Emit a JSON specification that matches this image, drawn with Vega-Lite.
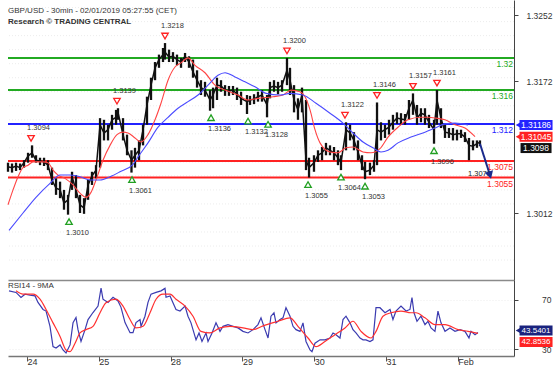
{
"$schema":"https://vega.github.io/schema/vega-lite/v6.json",
"padding":{"left":5,"right":0,"top":0,"bottom":0},
"spacing":0,
"background":"white",
"config":{"font":"Liberation Sans","view":{"stroke":null}},
"datasets":{
"bars":[
{"t":-0.265,"p":1.3062,"h":1.3073,"c":1.3068},{"t":-0.209,"p":1.3061,"h":1.3072,"c":1.3067},{"t":-0.153,"p":1.3063,"h":1.3073,"c":1.3069},{"t":-0.097,"p":1.3064,"h":1.3072,"c":1.3067},{"t":-0.042,"p":1.3067,"h":1.3076,"c":1.3073},{"t":0.014,"p":1.3073,"h":1.3085,"c":1.3081},{"t":0.070,"p":1.3079,"h":1.3094,"c":1.3085},{"t":0.125,"p":1.3073,"h":1.3082,"c":1.3076},{"t":0.181,"p":1.3070,"h":1.3079,"c":1.3075},{"t":0.237,"p":1.3069,"h":1.3079,"c":1.3074},{"t":0.292,"p":1.3064,"h":1.3076,"c":1.3070},{"t":0.348,"p":1.3046,"h":1.3067,"c":1.3052},{"t":0.404,"p":1.3034,"h":1.3054,"c":1.3042},{"t":0.460,"p":1.3030,"h":1.3050,"c":1.3040},{"t":0.515,"p":1.3016,"h":1.3040,"c":1.3024},{"t":0.571,"p":1.3010,"h":1.3034,"c":1.3028},{"t":0.627,"p":1.3040,"h":1.3062,"c":1.3056},{"t":0.682,"p":1.3030,"h":1.3058,"c":1.3040},{"t":0.738,"p":1.3012,"h":1.3034,"c":1.3022},{"t":0.794,"p":1.3011,"h":1.3030,"c":1.3018},{"t":0.850,"p":1.3028,"h":1.3052,"c":1.3046},{"t":0.905,"p":1.3046,"h":1.3062,"c":1.3057},{"t":0.961,"p":1.3054,"h":1.3070,"c":1.3064},{"t":1.017,"p":1.3067,"h":1.3127,"c":1.3119},{"t":1.072,"p":1.3100,"h":1.3125,"c":1.3109},{"t":1.128,"p":1.3100,"h":1.3119,"c":1.3113},{"t":1.184,"p":1.3113,"h":1.3131,"c":1.3125},{"t":1.240,"p":1.3119,"h":1.3137,"c":1.3128},{"t":1.267,"p":1.3125,"h":1.3139,"c":1.3134},{"t":1.337,"p":1.3100,"h":1.3127,"c":1.3107},{"t":1.393,"p":1.3082,"h":1.3107,"c":1.3088},{"t":1.455,"p":1.3061,"h":1.3088,"c":1.3076},{"t":1.504,"p":1.3067,"h":1.3091,"c":1.3082},{"t":1.560,"p":1.3076,"h":1.3100,"c":1.3088},{"t":1.616,"p":1.3094,"h":1.3119,"c":1.3113},{"t":1.671,"p":1.3119,"h":1.3153,"c":1.3143},{"t":1.727,"p":1.3149,"h":1.3176,"c":1.3167},{"t":1.783,"p":1.3173,"h":1.3195,"c":1.3188},{"t":1.838,"p":1.3188,"h":1.3204,"c":1.3198},{"t":1.894,"p":1.3195,"h":1.3212,"c":1.3204},{"t":1.922,"p":1.3198,"h":1.3218,"c":1.3207},{"t":1.978,"p":1.3195,"h":1.3210,"c":1.3201},{"t":2.033,"p":1.3195,"h":1.3207,"c":1.3202},{"t":2.089,"p":1.3191,"h":1.3204,"c":1.3198},{"t":2.145,"p":1.3188,"h":1.3200,"c":1.3195},{"t":2.201,"p":1.3195,"h":1.3206,"c":1.3202},{"t":2.256,"p":1.3188,"h":1.3202,"c":1.3195},{"t":2.312,"p":1.3176,"h":1.3198,"c":1.3183},{"t":2.368,"p":1.3164,"h":1.3185,"c":1.3173},{"t":2.423,"p":1.3155,"h":1.3173,"c":1.3164},{"t":2.479,"p":1.3153,"h":1.3171,"c":1.3161},{"t":2.549,"p":1.3136,"h":1.3161,"c":1.3149},{"t":2.591,"p":1.3139,"h":1.3164,"c":1.3155},{"t":2.646,"p":1.3149,"h":1.3176,"c":1.3167},{"t":2.702,"p":1.3159,"h":1.3173,"c":1.3166},{"t":2.758,"p":1.3154,"h":1.3167,"c":1.3161},{"t":2.813,"p":1.3154,"h":1.3166,"c":1.3160},{"t":2.869,"p":1.3155,"h":1.3166,"c":1.3161},{"t":2.925,"p":1.3149,"h":1.3164,"c":1.3156},{"t":2.981,"p":1.3143,"h":1.3159,"c":1.3151},{"t":3.064,"p":1.3132,"h":1.3155,"c":1.3147},{"t":3.106,"p":1.3143,"h":1.3154,"c":1.3149},{"t":3.162,"p":1.3144,"h":1.3156,"c":1.3150},{"t":3.217,"p":1.3147,"h":1.3159,"c":1.3153},{"t":3.273,"p":1.3147,"h":1.3161,"c":1.3155},{"t":3.343,"p":1.3128,"h":1.3155,"c":1.3143},{"t":3.384,"p":1.3151,"h":1.3171,"c":1.3164},{"t":3.440,"p":1.3159,"h":1.3173,"c":1.3166},{"t":3.496,"p":1.3156,"h":1.3171,"c":1.3164},{"t":3.552,"p":1.3159,"h":1.3173,"c":1.3167},{"t":3.621,"p":1.3167,"h":1.3200,"c":1.3185},{"t":3.663,"p":1.3155,"h":1.3188,"c":1.3173},{"t":3.719,"p":1.3134,"h":1.3167,"c":1.3149},{"t":3.774,"p":1.3125,"h":1.3151,"c":1.3137},{"t":3.830,"p":1.3134,"h":1.3164,"c":1.3155},{"t":3.886,"p":1.3064,"h":1.3149,"c":1.3076},{"t":3.928,"p":1.3055,"h":1.3079,"c":1.3067},{"t":3.997,"p":1.3062,"h":1.3082,"c":1.3073},{"t":4.053,"p":1.3074,"h":1.3088,"c":1.3082},{"t":4.109,"p":1.3076,"h":1.3092,"c":1.3085},{"t":4.164,"p":1.3082,"h":1.3097,"c":1.3091},{"t":4.220,"p":1.3082,"h":1.3094,"c":1.3088},{"t":4.276,"p":1.3076,"h":1.3092,"c":1.3085},{"t":4.331,"p":1.3070,"h":1.3088,"c":1.3079},{"t":4.373,"p":1.3064,"h":1.3082,"c":1.3073},{"t":4.443,"p":1.3088,"h":1.3122,"c":1.3113},{"t":4.499,"p":1.3100,"h":1.3119,"c":1.3109},{"t":4.554,"p":1.3088,"h":1.3110,"c":1.3100},{"t":4.610,"p":1.3076,"h":1.3100,"c":1.3086},{"t":4.666,"p":1.3064,"h":1.3082,"c":1.3070},{"t":4.708,"p":1.3053,"h":1.3074,"c":1.3062},{"t":4.777,"p":1.3058,"h":1.3073,"c":1.3064},{"t":4.833,"p":1.3062,"h":1.3076,"c":1.3070},{"t":4.875,"p":1.3070,"h":1.3146,"c":1.3113},{"t":4.930,"p":1.3100,"h":1.3122,"c":1.3110},{"t":4.986,"p":1.3103,"h":1.3119,"c":1.3113},{"t":5.042,"p":1.3107,"h":1.3125,"c":1.3116},{"t":5.097,"p":1.3113,"h":1.3131,"c":1.3122},{"t":5.153,"p":1.3120,"h":1.3134,"c":1.3127},{"t":5.209,"p":1.3119,"h":1.3133,"c":1.3126},{"t":5.265,"p":1.3119,"h":1.3132,"c":1.3125},{"t":5.320,"p":1.3125,"h":1.3149,"c":1.3139},{"t":5.376,"p":1.3131,"h":1.3157,"c":1.3149},{"t":5.432,"p":1.3119,"h":1.3143,"c":1.3127},{"t":5.487,"p":1.3122,"h":1.3139,"c":1.3133},{"t":5.543,"p":1.3119,"h":1.3139,"c":1.3131},{"t":5.599,"p":1.3115,"h":1.3131,"c":1.3122},{"t":5.669,"p":1.3096,"h":1.3125,"c":1.3113},{"t":5.710,"p":1.3119,"h":1.3161,"c":1.3149},{"t":5.766,"p":1.3115,"h":1.3139,"c":1.3127},{"t":5.822,"p":1.3103,"h":1.3119,"c":1.3110},{"t":5.877,"p":1.3103,"h":1.3115,"c":1.3109},{"t":5.933,"p":1.3100,"h":1.3115,"c":1.3107},{"t":5.989,"p":1.3100,"h":1.3113,"c":1.3108},{"t":6.045,"p":1.3103,"h":1.3113,"c":1.3108},{"t":6.100,"p":1.3098,"h":1.3110,"c":1.3104},{"t":6.156,"p":1.3076,"h":1.3103,"c":1.3094},{"t":6.212,"p":1.3088,"h":1.3100,"c":1.3093},{"t":6.267,"p":1.3091,"h":1.3100,"c":1.3096},{"t":6.309,"p":1.3093,"h":1.3100,"c":1.3098}
],
"redma":[
{"t":-0.265,"p":1.3022},{"t":-0.195,"p":1.3040},{"t":-0.125,"p":1.3056},{"t":-0.056,"p":1.3067},{"t":0.014,"p":1.3070},{"t":0.084,"p":1.3074},{"t":0.223,"p":1.3074},{"t":0.292,"p":1.3073},{"t":0.362,"p":1.3064},{"t":0.432,"p":1.3058},{"t":0.529,"p":1.3054},{"t":0.641,"p":1.3046},{"t":0.738,"p":1.3036},{"t":0.822,"p":1.3031},{"t":0.891,"p":1.3037},{"t":0.961,"p":1.3052},{"t":1.058,"p":1.3076},{"t":1.156,"p":1.3094},{"t":1.253,"p":1.3107},{"t":1.337,"p":1.3110},{"t":1.407,"p":1.3109},{"t":1.504,"p":1.3103},{"t":1.588,"p":1.3098},{"t":1.685,"p":1.3107},{"t":1.783,"p":1.3125},{"t":1.866,"p":1.3145},{"t":1.964,"p":1.3173},{"t":2.061,"p":1.3189},{"t":2.145,"p":1.3194},{"t":2.242,"p":1.3200},{"t":2.340,"p":1.3191},{"t":2.479,"p":1.3182},{"t":2.618,"p":1.3167},{"t":2.758,"p":1.3161},{"t":2.939,"p":1.3155},{"t":3.078,"p":1.3149},{"t":3.217,"p":1.3151},{"t":3.426,"p":1.3153},{"t":3.565,"p":1.3155},{"t":3.677,"p":1.3161},{"t":3.802,"p":1.3159},{"t":3.872,"p":1.3153},{"t":3.942,"p":1.3137},{"t":4.011,"p":1.3113},{"t":4.081,"p":1.3097},{"t":4.220,"p":1.3086},{"t":4.331,"p":1.3085},{"t":4.443,"p":1.3091},{"t":4.540,"p":1.3092},{"t":4.680,"p":1.3086},{"t":4.791,"p":1.3085},{"t":4.916,"p":1.3090},{"t":5.028,"p":1.3104},{"t":5.167,"p":1.3116},{"t":5.306,"p":1.3125},{"t":5.487,"p":1.3128},{"t":5.585,"p":1.3128},{"t":5.696,"p":1.3127},{"t":5.822,"p":1.3125},{"t":5.961,"p":1.3119},{"t":6.100,"p":1.3115},{"t":6.240,"p":1.31045}
],
"bluema":[
{"t":-0.251,"p":1.2991},{"t":-0.056,"p":1.3012},{"t":0.125,"p":1.3031},{"t":0.320,"p":1.3048},{"t":0.460,"p":1.3058},{"t":0.599,"p":1.3058},{"t":0.738,"p":1.3056},{"t":0.877,"p":1.3052},{"t":1.017,"p":1.3052},{"t":1.156,"p":1.3056},{"t":1.295,"p":1.3062},{"t":1.476,"p":1.3071},{"t":1.546,"p":1.3080},{"t":1.685,"p":1.3097},{"t":1.825,"p":1.3116},{"t":1.964,"p":1.3128},{"t":2.103,"p":1.3139},{"t":2.242,"p":1.3147},{"t":2.382,"p":1.3155},{"t":2.521,"p":1.3167},{"t":2.660,"p":1.3179},{"t":2.758,"p":1.3182},{"t":2.897,"p":1.3177},{"t":3.036,"p":1.3171},{"t":3.175,"p":1.3165},{"t":3.329,"p":1.3157},{"t":3.524,"p":1.3155},{"t":3.663,"p":1.3157},{"t":3.844,"p":1.3155},{"t":4.025,"p":1.3145},{"t":4.220,"p":1.3133},{"t":4.401,"p":1.3121},{"t":4.540,"p":1.3109},{"t":4.680,"p":1.3098},{"t":4.819,"p":1.3091},{"t":4.930,"p":1.3086},{"t":5.028,"p":1.3088},{"t":5.167,"p":1.3097},{"t":5.348,"p":1.3104},{"t":5.543,"p":1.3110},{"t":5.682,"p":1.3115},{"t":5.822,"p":1.3120},{"t":5.961,"p":1.3121},{"t":6.142,"p":1.31186}
],
"levels":[
{"p":1.3200,"k":"g","label":"1.32"},{"p":1.3161,"k":"g","label":"1.316"},{"p":1.3120,"k":"b","label":"1.312"},{"p":1.3075,"k":"r","label":"1.3075"},{"p":1.3055,"k":"r","label":"1.3055"}
],
"grid":[
{"p":1.2955},{"p":1.2972},{"p":1.2989},{"p":1.3006},{"p":1.3023},{"p":1.3040},{"p":1.3057},{"p":1.3074},{"p":1.3091},{"p":1.3108},{"p":1.3125},{"p":1.3142},{"p":1.3159},{"p":1.3176},{"p":1.3193},{"p":1.3210},{"p":1.3227},{"p":1.3244},{"p":1.3261}
],
"highs":[
{"t":0.056,"p":1.3094,"label":"1.3094"},{"t":1.253,"p":1.3139,"label":"1.3139"},{"t":1.922,"p":1.3218,"label":"1.3218"},{"t":3.621,"p":1.3200,"label":"1.3200"},{"t":4.429,"p":1.3122,"label":"1.3122"},{"t":4.875,"p":1.3146,"label":"1.3146"},{"t":5.376,"p":1.3157,"label":"1.3157"},{"t":5.710,"p":1.3161,"label":"1.3161"}
],
"lows":[
{"t":0.585,"p":1.3010,"label":"1.3010"},{"t":1.462,"p":1.3061,"label":"1.3061"},{"t":2.563,"p":1.3136,"label":"1.3136"},{"t":3.078,"p":1.3132,"label":"1.3132"},{"t":3.357,"p":1.3128,"label":"1.3128"},{"t":3.914,"p":1.3055,"label":"1.3055"},{"t":4.373,"p":1.3064,"label":"1.3064"},{"t":4.708,"p":1.3053,"label":"1.3053"},{"t":5.669,"p":1.3096,"label":"1.3096"}
],
"arrow":[{"t":6.309,"p":1.3096},{"t":6.448,"p":1.3058}],
"arrowhead":[{"t":6.448,"p":1.3058,"label":"1.3070"}],
"tags":[{"p":1.31186,"k":"b","label":"1.31186"},{"p":1.31045,"k":"r","label":"1.31045"}],
"lasttag":[{"p":1.3098,"label":"1.3098"}],
"rsi":[
{"t":-0.251,"v":77.4},{"t":-0.153,"v":76.1},{"t":-0.084,"v":72},{"t":-0.028,"v":74.7},{"t":0.042,"v":73.9},{"t":0.111,"v":73.3},{"t":0.153,"v":68},{"t":0.223,"v":62.3},{"t":0.265,"v":61},{"t":0.320,"v":48.6},{"t":0.362,"v":32.1},{"t":0.404,"v":31},{"t":0.460,"v":33.5},{"t":0.501,"v":29.4},{"t":0.543,"v":27},{"t":0.599,"v":33.5},{"t":0.641,"v":51.6},{"t":0.682,"v":55.7},{"t":0.710,"v":45.9},{"t":0.752,"v":36.3},{"t":0.808,"v":45.9},{"t":0.850,"v":54.1},{"t":0.919,"v":59.8},{"t":0.989,"v":65},{"t":1.031,"v":79.6},{"t":1.058,"v":70.6},{"t":1.128,"v":68},{"t":1.198,"v":72.2},{"t":1.267,"v":69.2},{"t":1.309,"v":64},{"t":1.365,"v":51.6},{"t":1.435,"v":43.4},{"t":1.476,"v":43.4},{"t":1.518,"v":51.6},{"t":1.574,"v":54.1},{"t":1.588,"v":48.6},{"t":1.643,"v":56.8},{"t":1.685,"v":68},{"t":1.727,"v":74.7},{"t":1.797,"v":76.1},{"t":1.866,"v":77.4},{"t":1.922,"v":79.4},{"t":1.936,"v":72.2},{"t":1.992,"v":73.3},{"t":2.033,"v":67.8},{"t":2.075,"v":62.3},{"t":2.131,"v":61},{"t":2.201,"v":65},{"t":2.242,"v":56.8},{"t":2.284,"v":51.4},{"t":2.354,"v":37.6},{"t":2.396,"v":43.2},{"t":2.437,"v":36.3},{"t":2.493,"v":43.2},{"t":2.521,"v":36.3},{"t":2.577,"v":43.2},{"t":2.632,"v":51.4},{"t":2.688,"v":44.5},{"t":2.730,"v":48.6},{"t":2.799,"v":50},{"t":2.869,"v":48.6},{"t":2.939,"v":47.3},{"t":3.008,"v":44.5},{"t":3.078,"v":43.2},{"t":3.148,"v":45.9},{"t":3.217,"v":50},{"t":3.259,"v":55.5},{"t":3.315,"v":45.9},{"t":3.357,"v":39.1},{"t":3.398,"v":56.8},{"t":3.440,"v":59.6},{"t":3.468,"v":51.4},{"t":3.524,"v":54.1},{"t":3.565,"v":55.5},{"t":3.607,"v":63.7},{"t":3.663,"v":56.8},{"t":3.705,"v":48.6},{"t":3.747,"v":45.9},{"t":3.802,"v":44.5},{"t":3.844,"v":51.4},{"t":3.886,"v":36.3},{"t":3.942,"v":29.4},{"t":3.969,"v":28},{"t":4.011,"v":34.9},{"t":4.081,"v":37.6},{"t":4.150,"v":37.6},{"t":4.220,"v":39.1},{"t":4.262,"v":43.2},{"t":4.304,"v":41.8},{"t":4.359,"v":39.1},{"t":4.401,"v":54.1},{"t":4.443,"v":56.8},{"t":4.499,"v":51.4},{"t":4.540,"v":45.9},{"t":4.582,"v":43.2},{"t":4.638,"v":39.1},{"t":4.680,"v":37.6},{"t":4.721,"v":37.6},{"t":4.777,"v":36.3},{"t":4.819,"v":37.6},{"t":4.861,"v":63.7},{"t":4.916,"v":63.7},{"t":4.986,"v":59.6},{"t":5.056,"v":62.3},{"t":5.097,"v":54.1},{"t":5.139,"v":61},{"t":5.209,"v":65},{"t":5.279,"v":61},{"t":5.334,"v":62.3},{"t":5.362,"v":72},{"t":5.390,"v":59.6},{"t":5.432,"v":52.7},{"t":5.487,"v":56.8},{"t":5.543,"v":50},{"t":5.585,"v":52.7},{"t":5.627,"v":47.3},{"t":5.682,"v":44.5},{"t":5.724,"v":61},{"t":5.766,"v":51.4},{"t":5.822,"v":44.5},{"t":5.891,"v":47.3},{"t":5.961,"v":44.5},{"t":6.031,"v":45.9},{"t":6.100,"v":44.5},{"t":6.156,"v":39.1},{"t":6.184,"v":44.5},{"t":6.240,"v":41.8},{"t":6.281,"v":43.54}
],
"rsima":[
{"t":-0.153,"v":77.4},{"t":-0.056,"v":74.7},{"t":0.084,"v":74.7},{"t":0.181,"v":70.6},{"t":0.265,"v":62.3},{"t":0.362,"v":51.4},{"t":0.460,"v":40.4},{"t":0.543,"v":29.4},{"t":0.599,"v":28},{"t":0.669,"v":34.9},{"t":0.738,"v":43.2},{"t":0.822,"v":45.9},{"t":0.919,"v":48.6},{"t":1.017,"v":59.6},{"t":1.100,"v":67.8},{"t":1.240,"v":70.6},{"t":1.337,"v":65},{"t":1.435,"v":54.1},{"t":1.518,"v":47.3},{"t":1.616,"v":48.6},{"t":1.713,"v":59.6},{"t":1.797,"v":70.6},{"t":1.894,"v":74.7},{"t":1.992,"v":74.7},{"t":2.075,"v":70.6},{"t":2.201,"v":65},{"t":2.312,"v":56.8},{"t":2.423,"v":44.5},{"t":2.549,"v":43.2},{"t":2.688,"v":47.3},{"t":2.827,"v":48.6},{"t":3.008,"v":47.3},{"t":3.148,"v":45.9},{"t":3.287,"v":49},{"t":3.496,"v":52.7},{"t":3.663,"v":55.5},{"t":3.774,"v":48.6},{"t":3.914,"v":39.1},{"t":4.025,"v":32.1},{"t":4.150,"v":36.3},{"t":4.290,"v":41.8},{"t":4.429,"v":47.3},{"t":4.540,"v":52.7},{"t":4.652,"v":44.5},{"t":4.791,"v":39.1},{"t":4.861,"v":44.5},{"t":4.958,"v":56.8},{"t":5.070,"v":59.6},{"t":5.209,"v":61},{"t":5.348,"v":59.6},{"t":5.418,"v":59.6},{"t":5.543,"v":55.5},{"t":5.682,"v":50},{"t":5.822,"v":50},{"t":6.003,"v":45.9},{"t":6.142,"v":44.5},{"t":6.281,"v":42.85}
],
"rsitag":[{"v":43.5401,"label":"43.5401"}],
"rsimatag":[{"v":42.8536,"label":"42.8536"}]
},
"vconcat":[
{
"width":506,"height":280,
"title":{"text":"GBP/USD - 30min - 02/01/2019 05:27:55 (CET)","subtitle":"Research © TRADING CENTRAL","anchor":"start","frame":"group","offset":-26,"fontSize":8,"fontWeight":"normal","color":"#333333","subtitleFontSize":8,"subtitleFontWeight":"bold","subtitleColor":"#333333","subtitlePadding":3,"font":"Liberation Sans","subtitleFont":"Liberation Sans"},
"layer":[
{"data":{"name":"grid"},"mark":{"type":"rule","color":"#ececec","strokeWidth":1,"strokeDash":[1,2]},
 "encoding":{"y":{"field":"p","type":"quantitative","scale":{"domain":[1.29308,1.32702],"nice":false,"zero":false},"axis":{"orient":"right","values":[1.3012,1.3172,1.3252],"format":".4f","title":null,"grid":false,"tickSize":4,"tickColor":"#444444","domainColor":"#444444","labelColor":"#333333","labelFontSize":8.5,"labelPadding":8,"labelFont":"Liberation Sans"}}}},
{"data":{"name":"levels"},"mark":{"type":"rule","strokeWidth":2},
 "encoding":{"y":{"field":"p","type":"quantitative","scale":{"domain":[1.29308,1.32702],"nice":false,"zero":false}},
 "color":{"field":"k","type":"nominal","scale":{"domain":["g","b","r","k"],"range":["#22aa22","#2222ff","#ff2222","#111111"]},"legend":null}}},
{"data":{"name":"bars"},"mark":{"type":"rule","color":"#111111","strokeWidth":2.3},
 "encoding":{"x":{"field":"t","type":"quantitative","scale":{"domain":[-0.265,6.783],"nice":false,"zero":false},"axis":{"orient":"bottom","labels":false,"ticks":false,"grid":false,"title":null,"domainColor":"#8a8a8a","domainWidth":1.5}},
 "y":{"field":"p","type":"quantitative","scale":{"domain":[1.29308,1.32702],"nice":false,"zero":false}},
 "y2":{"field":"h"}}},
{"data":{"name":"bars"},"mark":{"type":"line","color":"#111111","strokeWidth":1.5},
 "encoding":{"x":{"field":"t","type":"quantitative","scale":{"domain":[-0.265,6.783],"nice":false,"zero":false}},
 "y":{"field":"c","type":"quantitative","scale":{"domain":[1.29308,1.32702],"nice":false,"zero":false}}}},
{"data":{"name":"redma"},"mark":{"type":"line","color":"#ff4444","strokeWidth":1.1,"interpolate":"monotone"},
 "encoding":{"x":{"field":"t","type":"quantitative","scale":{"domain":[-0.265,6.783],"nice":false,"zero":false}},
 "y":{"field":"p","type":"quantitative","scale":{"domain":[1.29308,1.32702],"nice":false,"zero":false}}}},
{"data":{"name":"bluema"},"mark":{"type":"line","color":"#4b4bff","strokeWidth":1.1,"interpolate":"monotone"},
 "encoding":{"x":{"field":"t","type":"quantitative","scale":{"domain":[-0.265,6.783],"nice":false,"zero":false}},
 "y":{"field":"p","type":"quantitative","scale":{"domain":[1.29308,1.32702],"nice":false,"zero":false}}}},
{"data":{"name":"highs"},"mark":{"type":"point","shape":"triangle-down","filled":true,"fill":"white","stroke":"#ff2222","strokeWidth":1.3,"size":42,"yOffset":-7,"opacity":1},
 "encoding":{"x":{"field":"t","type":"quantitative","scale":{"domain":[-0.265,6.783],"nice":false,"zero":false}},
 "y":{"field":"p","type":"quantitative","scale":{"domain":[1.29308,1.32702],"nice":false,"zero":false}}}},
{"data":{"name":"highs"},"mark":{"type":"text","align":"left","baseline":"middle","dx":-4,"yOffset":-17,"fontSize":7.5,"color":"#333333","font":"Liberation Sans"},
 "encoding":{"x":{"field":"t","type":"quantitative","scale":{"domain":[-0.265,6.783],"nice":false,"zero":false}},
 "y":{"field":"p","type":"quantitative","scale":{"domain":[1.29308,1.32702],"nice":false,"zero":false}},"text":{"field":"label"}}},
{"data":{"name":"lows"},"mark":{"type":"point","shape":"triangle-up","filled":true,"fill":"white","stroke":"#22a022","strokeWidth":1.3,"size":42,"yOffset":7,"opacity":1},
 "encoding":{"x":{"field":"t","type":"quantitative","scale":{"domain":[-0.265,6.783],"nice":false,"zero":false}},
 "y":{"field":"p","type":"quantitative","scale":{"domain":[1.29308,1.32702],"nice":false,"zero":false}}}},
{"data":{"name":"lows"},"mark":{"type":"text","align":"left","baseline":"middle","dx":-3,"yOffset":18,"fontSize":7.5,"color":"#333333","font":"Liberation Sans"},
 "encoding":{"x":{"field":"t","type":"quantitative","scale":{"domain":[-0.265,6.783],"nice":false,"zero":false}},
 "y":{"field":"p","type":"quantitative","scale":{"domain":[1.29308,1.32702],"nice":false,"zero":false}},"text":{"field":"label"}}},
{"data":{"name":"levels"},"mark":{"type":"text","align":"right","baseline":"top","dy":2,"fontSize":8.5,"font":"Liberation Sans"},
 "encoding":{"x":{"datum":6.77,"type":"quantitative","scale":{"domain":[-0.265,6.783],"nice":false,"zero":false}},
 "y":{"field":"p","type":"quantitative","scale":{"domain":[1.29308,1.32702],"nice":false,"zero":false}},
 "text":{"field":"label"},
 "color":{"field":"k","type":"nominal","scale":{"domain":["g","b","r","k"],"range":["#22aa22","#2222ff","#ff2222","#111111"]},"legend":null}}},
{"data":{"name":"arrow"},"mark":{"type":"line","color":"#1a2a8c","strokeWidth":2},
 "encoding":{"x":{"field":"t","type":"quantitative","scale":{"domain":[-0.265,6.783],"nice":false,"zero":false}},
 "y":{"field":"p","type":"quantitative","scale":{"domain":[1.29308,1.32702],"nice":false,"zero":false}}}},
{"data":{"name":"arrowhead"},"mark":{"type":"text","align":"right","baseline":"middle","dx":1,"dy":-1,"fontSize":7.5,"color":"#222222","font":"Liberation Sans"},
 "encoding":{"x":{"field":"t","type":"quantitative","scale":{"domain":[-0.265,6.783],"nice":false,"zero":false}},
 "y":{"field":"p","type":"quantitative","scale":{"domain":[1.29308,1.32702],"nice":false,"zero":false}},"text":{"field":"label"}}},
{"data":{"name":"arrowhead"},"mark":{"type":"point","shape":"triangle-up","angle":163,"filled":true,"color":"#1a2a8c","size":75,"opacity":1},
 "encoding":{"x":{"field":"t","type":"quantitative","scale":{"domain":[-0.265,6.783],"nice":false,"zero":false}},
 "y":{"field":"p","type":"quantitative","scale":{"domain":[1.29308,1.32702],"nice":false,"zero":false}}}},
{"data":{"name":"tags"},"mark":{"type":"point","shape":"triangle-left","filled":true,"size":30,"opacity":1},
 "encoding":{"x":{"datum":6.84,"type":"quantitative","scale":{"domain":[-0.265,6.783],"nice":false,"zero":false}},
 "y":{"field":"p","type":"quantitative","scale":{"domain":[1.29308,1.32702],"nice":false,"zero":false}},
 "color":{"field":"k","type":"nominal","scale":{"domain":["g","b","r","k"],"range":["#22aa22","#2222ff","#ff2222","#111111"]},"legend":null}}},
{"data":{"name":"tags"},"mark":{"type":"tick","orient":"horizontal","size":33,"thickness":10,"opacity":1},
 "encoding":{"x":{"datum":7.09,"type":"quantitative","scale":{"domain":[-0.265,6.783],"nice":false,"zero":false}},
 "y":{"field":"p","type":"quantitative","scale":{"domain":[1.29308,1.32702],"nice":false,"zero":false}},
 "color":{"field":"k","type":"nominal","scale":{"domain":["g","b","r","k"],"range":["#22aa22","#2222ff","#ff2222","#111111"]},"legend":null}}},
{"data":{"name":"tags"},"mark":{"type":"text","align":"center","baseline":"middle","fontSize":8.5,"color":"white","font":"Liberation Sans"},
 "encoding":{"x":{"datum":7.09,"type":"quantitative","scale":{"domain":[-0.265,6.783],"nice":false,"zero":false}},
 "y":{"field":"p","type":"quantitative","scale":{"domain":[1.29308,1.32702],"nice":false,"zero":false}},"text":{"field":"label"}}},
{"data":{"name":"lasttag"},"mark":{"type":"tick","orient":"horizontal","size":31,"thickness":10,"color":"#111111","opacity":1,"yOffset":6},
 "encoding":{"x":{"datum":7.09,"type":"quantitative","scale":{"domain":[-0.265,6.783],"nice":false,"zero":false}},
 "y":{"field":"p","type":"quantitative","scale":{"domain":[1.29308,1.32702],"nice":false,"zero":false}}}},
{"data":{"name":"lasttag"},"mark":{"type":"text","align":"center","baseline":"middle","fontSize":8.5,"color":"white","yOffset":6,"font":"Liberation Sans"},
 "encoding":{"x":{"datum":7.09,"type":"quantitative","scale":{"domain":[-0.265,6.783],"nice":false,"zero":false}},
 "y":{"field":"p","type":"quantitative","scale":{"domain":[1.29308,1.32702],"nice":false,"zero":false}},"text":{"field":"label"}}}
]
},
{
"width":506,"height":76,
"title":{"text":"RSI14 - 9MA","anchor":"start","frame":"group","offset":-10,"fontSize":8,"fontWeight":"normal","color":"#333333","font":"Liberation Sans"},
"layer":[
{"data":{"name":"rsi"},"mark":{"type":"line","color":"#3b3bb0","strokeWidth":1.2},
 "encoding":{"x":{"field":"t","type":"quantitative","scale":{"domain":[-0.265,6.783],"nice":false,"zero":false},
   "axis":{"orient":"bottom","values":[0,1,2,3,4,5,6],"labelExpr":"['24','25','28','29','30','31','Feb'][datum.value]","title":null,"grid":false,"tickSize":5,"tickColor":"#555555","domainColor":"#777777","domainWidth":1.5,"labelAlign":"left","labelBaseline":"top","labelPadding":-4,"labelDx":3,"labelFontSize":9,"labelColor":"#333333","labelFont":"Liberation Sans"}},
 "y":{"field":"v","type":"quantitative","scale":{"domain":[24.5,86.2],"nice":false,"zero":false},
   "axis":{"orient":"right","values":[30,50,70],"title":null,"grid":true,"gridColor":"#ececec","gridDash":[1,2],"tickSize":4,"tickColor":"#444444","domainColor":"#444444","labelColor":"#333333","labelFontSize":8.5,"labelAlign":"right","labelPadding":33,"labelFont":"Liberation Sans"}}}},
{"data":{"name":"rsima"},"mark":{"type":"line","color":"#ff3030","strokeWidth":1.2,"interpolate":"monotone"},
 "encoding":{"x":{"field":"t","type":"quantitative","scale":{"domain":[-0.265,6.783],"nice":false,"zero":false}},
 "y":{"field":"v","type":"quantitative","scale":{"domain":[24.5,86.2],"nice":false,"zero":false}}}},
{"data":{"name":"rsitag"},"mark":{"type":"point","shape":"triangle-left","filled":true,"size":30,"color":"#1a237e","opacity":1,"yOffset":-2},
 "encoding":{"x":{"datum":6.84,"type":"quantitative","scale":{"domain":[-0.265,6.783],"nice":false,"zero":false}},
 "y":{"field":"v","type":"quantitative","scale":{"domain":[24.5,86.2],"nice":false,"zero":false}}}},
{"data":{"name":"rsitag"},"mark":{"type":"tick","orient":"horizontal","size":33,"thickness":10,"color":"#1a237e","opacity":1,"yOffset":-2},
 "encoding":{"x":{"datum":7.09,"type":"quantitative","scale":{"domain":[-0.265,6.783],"nice":false,"zero":false}},
 "y":{"field":"v","type":"quantitative","scale":{"domain":[24.5,86.2],"nice":false,"zero":false}}}},
{"data":{"name":"rsitag"},"mark":{"type":"text","align":"center","baseline":"middle","fontSize":8,"color":"white","font":"Liberation Sans","yOffset":-2},
 "encoding":{"x":{"datum":7.09,"type":"quantitative","scale":{"domain":[-0.265,6.783],"nice":false,"zero":false}},
 "y":{"field":"v","type":"quantitative","scale":{"domain":[24.5,86.2],"nice":false,"zero":false}},"text":{"field":"label"}}},
{"data":{"name":"rsimatag"},"mark":{"type":"tick","orient":"horizontal","size":33,"thickness":10,"color":"#ff2222","opacity":1,"yOffset":8.5},
 "encoding":{"x":{"datum":7.09,"type":"quantitative","scale":{"domain":[-0.265,6.783],"nice":false,"zero":false}},
 "y":{"field":"v","type":"quantitative","scale":{"domain":[24.5,86.2],"nice":false,"zero":false}}}},
{"data":{"name":"rsimatag"},"mark":{"type":"text","align":"center","baseline":"middle","fontSize":8,"color":"white","yOffset":8.5,"font":"Liberation Sans"},
 "encoding":{"x":{"datum":7.09,"type":"quantitative","scale":{"domain":[-0.265,6.783],"nice":false,"zero":false}},
 "y":{"field":"v","type":"quantitative","scale":{"domain":[24.5,86.2],"nice":false,"zero":false}},"text":{"field":"label"}}}
]
}
]
}
